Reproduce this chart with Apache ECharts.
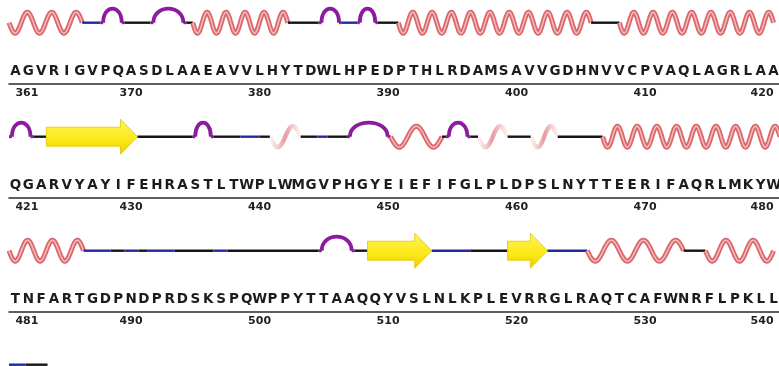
<!DOCTYPE html>
<html>
<head>
<meta charset="utf-8">
<script src="https://cdn.jsdelivr.net/npm/echarts@6/dist/echarts.min.js"></script>
<style>
  html, body { margin: 0; background: #fff; }
  #chart { width: 779px; height: 366px; }
</style>
</head>
<body>
<div id="chart"></div>
<script>
// residues 361-540, 60 per row
const firstResidue = 361;
const rowLength = 60;
const sequence =
  'AGVRIGVPQASDLAAEAVVLHYTDWLHPEDPTHLRDAMSAVVGDHNVVCPVAQLAGRLAA' +
  'QGARVYAYIFEHRASTLTWPLWMGVPHGYEIEFIFGLPLDPSLNYTTEERIFAQRLMKYW' +
  'TNFARTGDPNDPRDSKSPQWPPYTTAAQQYVSLNLKPLEVRRGLRAQTCAFWNRFLPKLL';
const tickLabels = [361, 370, 380, 390, 400, 410, 420,
                    421, 430, 440, 450, 460, 470, 480,
                    481, 490, 500, 510, 520, 530, 540];

// secondary structure: [type, from, to, helix turns]
// H helix, G 3-10 helix, E strand, T turn, S bend, C coil
const row1Segments = [
  ['H', 360.5, 366.2, 3], ['S', 366.2, 367.6], ['T', 367.6, 369.5], ['C', 369.5, 371.5],
  ['T', 371.5, 374.3], ['C', 374.3, 374.8], ['H', 374.8, 382.2, 5], ['C', 382.2, 384.6],
  ['T', 384.6, 386.4], ['S', 386.4, 387.6], ['T', 387.6, 389.2], ['C', 389.2, 390.8],
  ['H', 390.8, 405.8, 10], ['C', 405.8, 408.0], ['H', 408.0, 420.0, 8]
];
const row2Segments = [
  ['T', 420.5, 422.4], ['C', 422.4, 423.4], ['E', 423.4, 430.5], ['C', 430.5, 434.8],
  ['T', 434.8, 436.4], ['C', 436.4, 438.5], ['S', 438.5, 440.0], ['C', 440.0, 440.8],
  ['G', 440.8, 443.2, 1], ['C', 443.2, 444.5], ['S', 444.5, 445.3], ['C', 445.3, 446.8],
  ['T', 446.8, 450.2], ['H', 450.2, 454.2, 1.5], ['C', 454.2, 454.5], ['T', 454.5, 456.4],
  ['C', 456.4, 457.0], ['G', 457.0, 459.3, 1], ['C', 459.3, 461.1], ['G', 461.1, 463.2, 1],
  ['C', 463.2, 466.7], ['H', 466.7, 480.5, 9]
];
const row3Segments = [
  ['H', 480.5, 486.3, 3], ['S', 486.3, 488.4], ['C', 488.4, 489.5], ['S', 489.5, 490.6],
  ['C', 490.6, 491.3], ['S', 491.3, 493.4], ['C', 493.4, 496.4], ['S', 496.4, 497.5],
  ['C', 497.5, 504.6], ['T', 504.6, 507.4], ['C', 507.4, 508.4], ['E', 508.4, 513.4],
  ['S', 513.4, 516.4], ['C', 516.4, 519.3], ['E', 519.3, 522.4], ['S', 522.4, 525.5],
  ['H', 525.5, 533.0, 3], ['C', 533.0, 534.7], ['H', 534.7, 540.0, 2.5]
];
const row4Segments = [
  ['S', 540.5, 541.8], ['C', 541.8, 543.5]
];
const rowSegments = [row1Segments, row2Segments, row3Segments, row4Segments];

const ROW_TOP = 2.7;
const ROW_STEP = 114;
const COIL_Y = 20;     // y units inside a row grid (0..81, axis line at 81)
const LETTER_Y = 68.5;
const FONT = '"DejaVu Sans", sans-serif';

function wavePoints(x0, x1, y, turns, amp) {
  const pts = [];
  const n = Math.max(10, Math.round((x1 - x0) * 1.5));
  for (let i = 0; i <= n; i++) {
    const t = i / n;
    pts.push([x0 + (x1 - x0) * t, y + amp * Math.sin(t * turns * 2 * Math.PI)]);
  }
  return pts;
}

function line(x0, x1, y, color) {
  return {
    type: 'line',
    shape: { x1: x0, y1: y, x2: x1, y2: y },
    style: { stroke: color, lineWidth: 2.4, fill: 'none' }
  };
}

function renderSegments(segs) {
  return function (params, api) {
    const s = segs[params.dataIndex];
    const type = s[0];
    const a = api.coord([s[1], COIL_Y]);
    const b = api.coord([s[2], COIL_Y]);
    const x0 = a[0], x1 = b[0], y = a[1];
    if (type === 'C') return line(x0, x1, y, '#151515');
    if (type === 'S') return line(x0, x1, y, '#2128a0');
    if (type === 'H') {
      const pts = wavePoints(x0, x1, y, s[3], 10.5);
      return {
        type: 'group',
        children: [
          { type: 'polyline', shape: { points: pts },
            style: { stroke: '#da676c', lineWidth: 5, fill: 'none', lineJoin: 'round' } },
          { type: 'polyline', shape: { points: pts },
            style: { stroke: '#f5bcbc', lineWidth: 1.5, fill: 'none', lineJoin: 'round' } }
        ]
      };
    }
    if (type === 'G') {
      const pts = wavePoints(x0, x1, y, s[3], 10.5);
      const grad = new echarts.graphic.LinearGradient(0, 0, 1, 0, [
        { offset: 0, color: 'rgba(235,160,160,0)' },
        { offset: 0.5, color: 'rgba(222,120,125,0.75)' },
        { offset: 1, color: 'rgba(235,160,160,0)' }
      ]);
      return {
        type: 'polyline', shape: { points: pts },
        style: { stroke: grad, lineWidth: 4.5, fill: 'none', lineJoin: 'round' }
      };
    }
    if (type === 'T') {
      const inset = Math.min(3, (x1 - x0) * 0.12);
      const xl = x0 + inset, xr = x1 - inset, h = 14;
      const purple = '#8b1c9e';
      return {
        type: 'group',
        children: [
          { type: 'line', shape: { x1: x0, y1: y, x2: xl, y2: y },
            style: { stroke: purple, lineWidth: 3, fill: 'none' } },
          { type: 'line', shape: { x1: xr, y1: y, x2: x1, y2: y },
            style: { stroke: purple, lineWidth: 3, fill: 'none' } },
          { type: 'bezierCurve',
            shape: { x1: xl, y1: y, cpx1: xl, cpy1: y - h * 4 / 3,
                     cpx2: xr, cpy2: y - h * 4 / 3, x2: xr, y2: y },
            style: { stroke: purple, lineWidth: 3.8, fill: 'none' } }
        ]
      };
    }
    if (type === 'E') {
      const head = Math.min(17, (x1 - x0) * 0.5);
      const xh = x1 - head;
      const grad = new echarts.graphic.LinearGradient(0, 0, 0, 1, [
        { offset: 0, color: '#fff45c' },
        { offset: 0.6, color: '#fbe814' },
        { offset: 1, color: '#e9cf00' }
      ]);
      return {
        type: 'polygon',
        shape: { points: [
          [x0, y - 9.5], [xh, y - 9.5], [xh, y - 17.5], [x1, y],
          [xh, y + 17.5], [xh, y + 9.5], [x0, y + 9.5]
        ] },
        style: { fill: grad, stroke: '#e2c400', lineWidth: 0.8 }
      };
    }
    return null;
  };
}

function renderLetter(params, api) {
  const p = api.coord([api.value(0), LETTER_Y]);
  return {
    type: 'text',
    style: {
      text: sequence[api.value(0) - firstResidue],
      x: p[0], y: p[1], align: 'center', verticalAlign: 'middle',
      fontFamily: FONT, fontSize: 13.5, fontWeight: 'bold', fill: '#1c1c1c'
    }
  };
}

const grid = [], xAxis = [], yAxis = [], series = [];
for (let r = 0; r < 4; r++) {
  const start = firstResidue + r * rowLength;
  const hasAxis = r < 3;
  grid.push({
    left: 9, width: 771, top: ROW_TOP + r * ROW_STEP, height: 81,
    outerBoundsMode: 'none', containLabel: false
  });
  yAxis.push({ gridIndex: r, type: 'value', min: 0, max: 81, inverse: true, show: false });
  const residues = [];
  for (let i = 0; i < rowLength; i++) residues.push(String(start + i));
  const valueAxisIndex = xAxis.length;
  xAxis.push({
    gridIndex: r, type: 'value', min: start - 0.5, max: start + rowLength - 0.5,
    show: false, position: 'top'
  });
  if (hasAxis) {
    xAxis.push({
      gridIndex: r, type: 'category', data: residues, position: 'bottom', boundaryGap: true,
      axisLine: { onZero: false, lineStyle: { color: '#2a2a2a', width: 1.5 } },
      axisTick: {
        alignWithLabel: true, length: 4,
        interval: (i, v) => tickLabels.includes(+v),
        lineStyle: { color: '#2a2a2a', width: 1.2 }
      },
      axisLabel: {
        interval: (i, v) => tickLabels.includes(+v),
        margin: 4, fontFamily: FONT, fontSize: 11, fontWeight: 'bold', color: '#222',
        alignMinLabel: 'left', alignMaxLabel: 'right'
      },
      splitLine: { show: false }
    });
    xAxis.push({
      gridIndex: r, type: 'category', data: residues, position: 'bottom', boundaryGap: true,
      axisLine: { show: false, onZero: false },
      axisTick: {
        inside: true, alignWithLabel: true, length: 3,
        interval: (i, v) => +v % 10 === 5,
        lineStyle: { color: '#2a2a2a', width: 1.2 }
      },
      axisLabel: { show: false },
      splitLine: { show: false }
    });
  }
  const segs = rowSegments[r];
  series.push({
    type: 'custom', xAxisIndex: valueAxisIndex, yAxisIndex: r,
    renderItem: renderSegments(segs),
    data: segs.map(s => [s[1], s[2]]),
    encode: { x: [0, 1] }, silent: true, animation: false
  });
  if (hasAxis) {
    const letters = [];
    for (let i = 0; i < rowLength; i++) letters.push([start + i]);
    series.push({
      type: 'custom', xAxisIndex: valueAxisIndex, yAxisIndex: r,
      renderItem: renderLetter,
      data: letters, encode: { x: 0 }, silent: true, animation: false
    });
  }
}

const chart = echarts.init(document.getElementById('chart'));
chart.setOption({
  backgroundColor: '#fff',
  animation: false,
  grid, xAxis, yAxis, series
});
</script>
</body>
</html>
